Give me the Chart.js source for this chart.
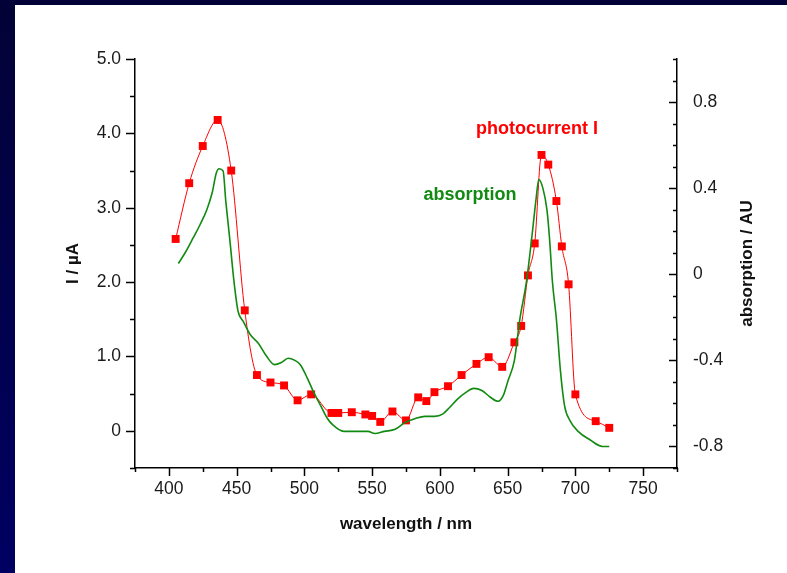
<!DOCTYPE html>
<html>
<head>
<meta charset="utf-8">
<script src="https://cdn.jsdelivr.net/npm/chart.js@4/dist/chart.umd.min.js"></script>
<style>
  html, body { margin: 0; padding: 0; background: #fff; }
  #wrap { position: absolute; left: 0; top: 0; width: 787px; height: 573px; }
</style>
</head>
<body>
<div id="wrap"><canvas id="c" width="787" height="573"></canvas></div>
<script>
// photocurrent (left axis, µA)
const wavelengthI = [405, 415, 425, 436, 446, 456, 465, 475, 485, 495, 505, 520, 525, 535, 545, 550, 556, 565, 575, 584, 590, 596, 606, 616, 627, 636, 646, 655, 660, 665, 670, 675, 680, 686, 690, 695, 700, 715, 725];
const photocurrent = [2.58, 3.33, 3.83, 4.18, 3.50, 1.62, 0.75, 0.65, 0.61, 0.41, 0.49, 0.24, 0.24, 0.25, 0.22, 0.20, 0.12, 0.26, 0.14, 0.45, 0.40, 0.52, 0.60, 0.75, 0.90, 0.99, 0.86, 1.19, 1.41, 2.09, 2.52, 3.71, 3.58, 3.09, 2.48, 1.97, 0.49, 0.13, 0.04];

// absorption (right axis, AU)
const wavelengthAbs = [407, 412, 418, 423, 428, 432, 435, 437, 440, 442, 445, 448, 451, 455, 460, 466, 472, 478, 483, 488, 493, 497, 502, 507, 512, 517, 521, 529, 537, 547, 552, 559, 567, 574, 582, 589, 596, 602, 607, 613, 619, 625, 631, 637, 643, 647, 650, 655, 659, 664, 668, 671, 673, 676, 679, 681, 683, 686, 689, 692, 696, 702, 711, 720, 725];
const absorption = [0.05, 0.10, 0.17, 0.23, 0.30, 0.38, 0.47, 0.49, 0.48, 0.34, 0.16, -0.03, -0.17, -0.22, -0.28, -0.32, -0.38, -0.42, -0.41, -0.39, -0.40, -0.42, -0.48, -0.55, -0.61, -0.67, -0.70, -0.73, -0.73, -0.73, -0.74, -0.73, -0.72, -0.69, -0.67, -0.66, -0.66, -0.65, -0.62, -0.58, -0.55, -0.53, -0.54, -0.57, -0.59, -0.56, -0.50, -0.40, -0.21, -0.03, 0.18, 0.35, 0.44, 0.40, 0.30, 0.16, -0.03, -0.21, -0.45, -0.61, -0.68, -0.73, -0.77, -0.80, -0.80];

const xTickLabels = [400, 450, 500, 550, 600, 650, 700, 750];
const leftTickLabels = [0, 1, 2, 3, 4, 5];
const rightTickLabels = [-0.8, -0.4, 0, 0.4, 0.8];

const FONT = "'Liberation Sans', Arial, sans-serif";
const near = (a, list) => list.some(v => Math.abs(v - a) < 1e-6);

const isMajor = {
  x: v => near(v, xTickLabels),
  yI: v => near(v, leftTickLabels),
  yA: v => near(v, rightTickLabels)
};

const frame = {
  id: 'frame',
  beforeDraw(chart) {
    const ctx = chart.ctx;
    ctx.save();
    ctx.fillStyle = '#ffffff';
    ctx.fillRect(0, 0, 787, 573);
    const g = ctx.createLinearGradient(0, 0, 0, 573);
    g.addColorStop(0, '#030236');
    g.addColorStop(1, '#000062');
    ctx.fillStyle = g;
    ctx.fillRect(0, 0, 15, 573);
    ctx.fillStyle = '#030238';
    ctx.fillRect(0, 0, 787, 5);
    ctx.restore();
  }
};

const tickMarks = {
  id: 'tickMarks',
  afterDraw(chart) {
    const ctx = chart.ctx;
    ctx.save();
    ctx.strokeStyle = '#000';
    ctx.lineWidth = 1.5;
    const sx = chart.scales.x, sl = chart.scales.yI, sr = chart.scales.yA;
    ctx.beginPath();
    sx.ticks.forEach(t => {
      const p = Math.round(sx.getPixelForValue(t.value)) + 0.5;
      const len = isMajor.x(t.value) ? 8 : 4;
      ctx.moveTo(p, sx.top); ctx.lineTo(p, sx.top + len);
    });
    sl.ticks.forEach(t => {
      const p = Math.round(sl.getPixelForValue(t.value)) + 0.5;
      const len = isMajor.yI(t.value) ? 9 : 5;
      ctx.moveTo(sl.right, p); ctx.lineTo(sl.right - len, p);
    });
    sr.ticks.forEach(t => {
      const p = Math.round(sr.getPixelForValue(t.value)) + 0.5;
      const len = isMajor.yA(t.value) ? 8 : 4;
      ctx.moveTo(sr.left, p); ctx.lineTo(sr.left - len, p);
    });
    ctx.stroke();

    // right axis title, reading bottom to top like the left one
    ctx.font = 'bold 17px ' + FONT;
    ctx.fillStyle = '#111';
    ctx.textAlign = 'center';
    ctx.textBaseline = 'middle';
    ctx.save();
    ctx.translate(747, (chart.chartArea.top + chart.chartArea.bottom) / 2);
    ctx.rotate(-Math.PI / 2);
    ctx.fillText('absorption / AU', 0, 0);
    ctx.restore();

    ctx.font = 'bold 18px ' + FONT;
    ctx.fillStyle = '#ff0000';
    ctx.fillText('photocurrent I', 537, 129);
    ctx.fillStyle = '#118a11';
    ctx.fillText('absorption', 470, 195);
    ctx.restore();
  }
};

const tickFont = { family: FONT, size: 17.5 };
const titleFont = { family: FONT, size: 17, weight: 'bold' };

new Chart(document.getElementById('c'), {
  type: 'line',
  data: {
    datasets: [
      {
        label: 'absorption',
        data: wavelengthAbs.map((x, i) => ({ x, y: absorption[i] })),
        yAxisID: 'yA',
        borderColor: '#118a11',
        borderWidth: 1.6,
        pointRadius: 0,
        cubicInterpolationMode: 'monotone'
      },
      {
        label: 'photocurrent I',
        data: wavelengthI.map((x, i) => ({ x, y: photocurrent[i] })),
        yAxisID: 'yI',
        borderColor: '#ff0000',
        borderWidth: 1,
        pointStyle: 'rect',
        pointRadius: 5.6,
        pointBackgroundColor: '#ff0000',
        pointBorderColor: '#ff0000',
        pointBorderWidth: 0,
        cubicInterpolationMode: 'monotone'
      }
    ]
  },
  options: {
    responsive: false,
    animation: false,
    layout: { padding: { left: 50, right: 20, top: 59, bottom: 20 } },
    plugins: { legend: { display: false }, tooltip: { enabled: false } },
    scales: {
      x: {
        type: 'linear',
        position: 'bottom',
        min: 375, max: 775,
        afterFit: s => { s.height = 85; },
        grid: { display: false, drawTicks: false },
        border: { display: true, color: '#000', width: 1.5 },
        ticks: {
          stepSize: 25, autoSkip: false, maxRotation: 0, padding: 11,
          color: '#1a1a1a', font: tickFont,
          callback: v => isMajor.x(v) ? String(Math.round(v)) : ''
        },
        title: { display: true, text: 'wavelength / nm', color: '#111', font: titleFont, padding: { top: 0, bottom: 18 } }
      },
      yI: {
        type: 'linear',
        position: 'left',
        min: -0.5, max: 5.0,
        afterFit: s => { s.width = 85; },
        grid: { display: false, drawTicks: false },
        border: { display: true, color: '#000', width: 1.5 },
        ticks: {
          stepSize: 0.5, autoSkip: false, padding: 14,
          color: '#1a1a1a', font: tickFont,
          callback: v => isMajor.yI(v) ? (Math.abs(v) < 1e-6 ? '0' : v.toFixed(1)) : ''
        },
        title: { display: true, text: 'I / µA', color: '#111', font: titleFont, padding: { top: 13, bottom: 0 } }
      },
      yA: {
        type: 'linear',
        position: 'right',
        min: -0.9, max: 1.0,
        afterFit: s => { s.width = 90; },
        grid: { display: false, drawTicks: false },
        border: { display: true, color: '#000', width: 1.5 },
        ticks: {
          stepSize: 0.1, autoSkip: false, padding: 16,
          color: '#1a1a1a', font: tickFont,
          callback: v => isMajor.yA(v) ? (Math.abs(v) < 1e-6 ? '0' : v.toFixed(1)) : ''
        },
        title: { display: false }
      }
    }
  },
  plugins: [frame, tickMarks]
});
</script>
</body>
</html>
